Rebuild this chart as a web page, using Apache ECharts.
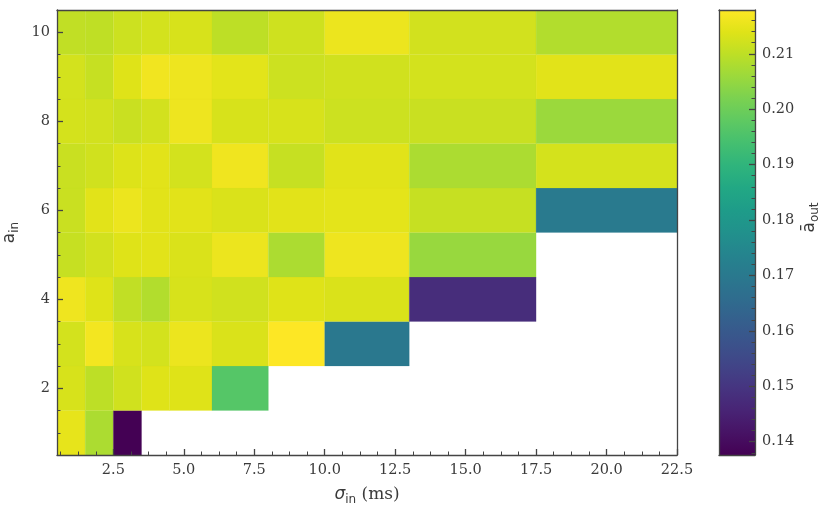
<!DOCTYPE html>
<html><head><meta charset="utf-8">
<script src="https://cdn.jsdelivr.net/npm/echarts@6/dist/echarts.min.js"></script>
<style>html,body{margin:0;padding:0;background:#fff}#c{width:830px;height:513px}</style>
</head><body><div id="c"></div>
<script>
// ---- data ----
const sigmaEdges = [0.5, 1.5, 2.5, 3.5, 4.5, 6, 8, 10, 13, 17.5, 22.5]; // bin edges of σ_in (ms)
const sigmaCenters = [1, 2, 3, 4, 5, 7, 9, 11, 15, 20];
const aIn = [1, 2, 3, 4, 5, 6, 7, 8, 9, 10];
const aOut_a1  = [0.2149, 0.2079, 0.1376, null,   null,   null,   null,   null,   null,   null];
const aOut_a2  = [0.2129, 0.2099, 0.2121, 0.2139, 0.2139, 0.1965, null,   null,   null,   null];
const aOut_a3  = [0.2125, 0.2165, 0.2129, 0.2125, 0.2156, 0.2133, 0.2179, 0.1697, null,   null];
const aOut_a4  = [0.2160, 0.2139, 0.2103, 0.2086, 0.2129, 0.2121, 0.2139, 0.2133, 0.1480, null];
const aOut_a5  = [0.2109, 0.2123, 0.2139, 0.2143, 0.2133, 0.2156, 0.2079, 0.2159, 0.2055, null];
const aOut_a6  = [0.2113, 0.2143, 0.2156, 0.2143, 0.2143, 0.2133, 0.2143, 0.2146, 0.2109, 0.1703];
const aOut_a7  = [0.2113, 0.2121, 0.2136, 0.2143, 0.2125, 0.2161, 0.2109, 0.2141, 0.2079, 0.2126];
const aOut_a8  = [0.2126, 0.2123, 0.2113, 0.2123, 0.2159, 0.2129, 0.2129, 0.2116, 0.2113, 0.2058];
const aOut_a9  = [0.2125, 0.2109, 0.2139, 0.2163, 0.2159, 0.2144, 0.2117, 0.2121, 0.2125, 0.2143];
const aOut_a10 = [0.2103, 0.2101, 0.2116, 0.2125, 0.2129, 0.2099, 0.2119, 0.2156, 0.2123, 0.2086];
const xTickValues = [2.5, 5, 7.5, 10, 12.5, 15, 17.5, 20, 22.5];
const yTickValues = [2, 4, 6, 8, 10];
const cbTickValues = [0.14, 0.15, 0.16, 0.17, 0.18, 0.19, 0.20, 0.21];
const viridis = ['#440154','#471365','#482475','#463480','#414487','#3b528b','#355f8d','#2f6c8e',
  '#2a788e','#25848e','#21918c','#1e9c89','#22a884','#2fb47c','#44bf70','#5ec962','#7ad151',
  '#9bd93c','#bddf26','#dfe318','#fde725'];

// ---- build ----
const rows = [aOut_a1, aOut_a2, aOut_a3, aOut_a4, aOut_a5, aOut_a6, aOut_a7, aOut_a8, aOut_a9, aOut_a10];
const cells = [];
aIn.forEach((a, r) => rows[r].forEach((v, c) => {
  if (v !== null) cells.push([sigmaEdges[c], sigmaEdges[c + 1], a, v]);
}));
const vals = cells.map(d => d[3]);
const vMin = Math.min(...vals), vMax = Math.max(...vals);

const xMinor = [];
for (let k = 1; k < 36; k++) { const v = k * 0.625; if (k % 4 !== 0 && v > 0.5 && v < 22.5) xMinor.push(v); }
const yMinor = [];
for (let k = 2; k <= 20; k++) { if (k % 4 !== 0) yMinor.push(k * 0.5); }
const cbMinor = [];
for (let k = 69; k <= 109; k++) { const v = k * 0.002; if (k % 5 !== 0 && v > vMin && v < vMax) cbMinor.push(+v.toFixed(3)); }

const AX = '#444', TXT = '#3a3a3a';
const lineStyle = { color: AX, width: 1.3 };
function frameAxis(grid, pos, min, max) {
  return { gridIndex: grid, type: 'value', min, max, position: pos, z: 10,
    axisLine: { show: true, onZero: false, lineStyle },
    axisTick: { show: false }, axisLabel: { show: false }, splitLine: { show: false } };
}
function minorAxis(grid, pos, min, max, vals) {
  return { gridIndex: grid, type: 'value', min, max, position: pos, z: 10,
    axisLine: { show: false, onZero: false },
    axisTick: { show: true, inside: true, length: 3.5, customValues: vals, lineStyle: { color: AX, width: 1 } },
    axisLabel: { show: false }, splitLine: { show: false } };
}
const subStyle = { fontFamily: 'DejaVu Sans', fontSize: 12, color: TXT, padding: [10, 0, 0, 0] };

const option = {
  animation: false,
  backgroundColor: '#fff',
  grid: [
    { left: 57, top: 10, width: 620, height: 445, show: false, containLabel: false, outerBoundsMode: 'none' },
    { left: 719, top: 10, width: 36, height: 445, show: false, containLabel: false, outerBoundsMode: 'none' }
  ],
  visualMap: {
    show: false, type: 'continuous', seriesIndex: 0, dimension: 3,
    min: vMin, max: vMax, inRange: { color: viridis }
  },
  xAxis: [
    { gridIndex: 0, type: 'value', min: 0.5, max: 22.5, position: 'bottom', z: 10,
      axisLine: { show: true, onZero: false, lineStyle },
      axisTick: { show: true, inside: true, length: 6, customValues: xTickValues, lineStyle },
      axisLabel: { show: true, customValues: xTickValues, formatter: v => v.toFixed(1), margin: 8,
        fontFamily: 'DejaVu Serif', fontSize: 14.5, color: TXT },
      splitLine: { show: false },
      name: '{s|σ}{i|in}{t| (ms)}', nameLocation: 'middle', nameGap: 29,
      nameTextStyle: { rich: {
        s: { fontFamily: 'DejaVu Sans', fontStyle: 'italic', fontSize: 17, color: TXT },
        i: subStyle,
        t: { fontFamily: 'DejaVu Serif', fontSize: 17, color: TXT } } } },
    minorAxis(0, 'bottom', 0.5, 22.5, xMinor),
    frameAxis(0, 'top', 0.5, 22.5),
    frameAxis(1, 'bottom', 0, 1),
    frameAxis(1, 'top', 0, 1)
  ],
  yAxis: [
    { gridIndex: 0, type: 'value', min: 0.5, max: 10.5, position: 'left', z: 10,
      axisLine: { show: true, onZero: false, lineStyle },
      axisTick: { show: true, inside: true, length: 6, customValues: yTickValues, lineStyle },
      axisLabel: { show: true, customValues: yTickValues, formatter: v => String(v), margin: 7,
        fontFamily: 'DejaVu Serif', fontSize: 14.5, color: TXT },
      splitLine: { show: false },
      name: '{a|a}{i|in}', nameLocation: 'middle', nameRotate: 90, nameGap: 29,
      nameTextStyle: { rich: {
        a: { fontFamily: 'DejaVu Sans', fontSize: 17, color: TXT },
        i: subStyle } } },
    minorAxis(0, 'left', 0.5, 10.5, yMinor),
    frameAxis(0, 'right', 0.5, 10.5),
    { gridIndex: 1, type: 'value', min: vMin, max: vMax, position: 'right', z: 10,
      axisLine: { show: true, onZero: false, lineStyle },
      axisTick: { show: true, inside: true, length: 6, customValues: cbTickValues, lineStyle },
      axisLabel: { show: true, customValues: cbTickValues, formatter: v => v.toFixed(2), margin: 7,
        fontFamily: 'DejaVu Serif', fontSize: 14.5, color: TXT },
      splitLine: { show: false },
      name: '{a|ā}{i|out}', nameLocation: 'middle', nameRotate: 90, nameGap: 44,
      nameTextStyle: { padding: [0, 0, 0, 30], rich: {
        a: { fontFamily: 'DejaVu Sans', fontSize: 17, color: TXT },
        i: subStyle } } },
    minorAxis(1, 'right', vMin, vMax, cbMinor),
    frameAxis(1, 'left', vMin, vMax)
  ],
  series: [
    { type: 'custom', xAxisIndex: 0, yAxisIndex: 0, data: cells, encode: { x: [0, 1], y: 2 },
      clip: true, silent: true,
      renderItem: (params, api) => {
        const p0 = api.coord([api.value(0), api.value(2) + 0.5]);
        const p1 = api.coord([api.value(1), api.value(2) - 0.5]);
        const col = api.visual('color');
        return { type: 'rect',
          shape: { x: p0[0], y: p0[1], width: p1[0] - p0[0], height: p1[1] - p0[1] },
          style: { fill: col, stroke: col, lineWidth: 0.2 } };
      } },
    { type: 'custom', xAxisIndex: 3, yAxisIndex: 3, data: [[0, 1, vMin, vMax]],
      encode: { x: [0, 1], y: [2, 3] }, silent: true,
      renderItem: (params, api) => {
        const p0 = api.coord([0, vMax]);
        const p1 = api.coord([1, vMin]);
        const n = viridis.length;
        const stops = viridis.slice().reverse().map((c, i) => ({ offset: i / (n - 1), color: c }));
        return { type: 'rect',
          shape: { x: p0[0], y: p0[1], width: p1[0] - p0[0], height: p1[1] - p0[1] },
          style: { fill: new echarts.graphic.LinearGradient(0, 0, 0, 1, stops) } };
      } }
  ]
};
const chart = echarts.init(document.getElementById('c'));
chart.setOption(option);
</script>
</body></html>
